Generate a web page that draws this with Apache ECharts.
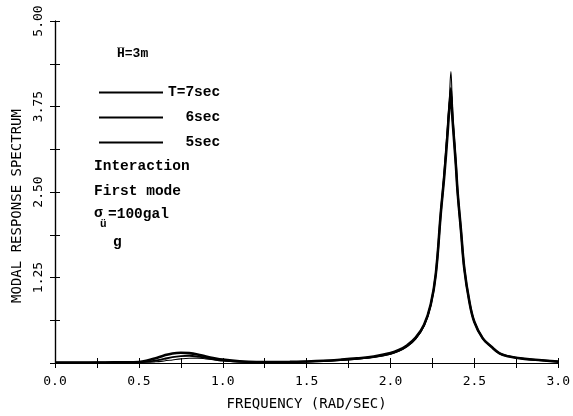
<!DOCTYPE html>
<html>
<head>
<meta charset="utf-8">
<script src="https://cdn.jsdelivr.net/npm/echarts@6/dist/echarts.min.js"></script>
<style>
  html, body { margin: 0; padding: 0; background: #fff; }
  #chart { width: 573px; height: 416px; }
</style>
</head>
<body>
<div id="chart"></div>
<script>
// frequency grid (rad/sec)
const freq = [0, 0.1, 0.2, 0.3, 0.4, 0.5, 0.55, 0.6, 0.65, 0.7, 0.75, 0.8, 0.85, 0.9, 0.95, 1.0,
  1.1, 1.2, 1.3, 1.4, 1.5, 1.6, 1.7, 1.8, 1.9, 2.0, 2.05, 2.1, 2.15, 2.2, 2.24, 2.27, 2.3, 2.32,
  2.34, 2.35, 2.36, 2.37, 2.38, 2.39, 2.4, 2.42, 2.44, 2.47, 2.5, 2.55, 2.6, 2.65, 2.7, 2.8, 2.9, 3.0];

// modal response spectrum, T = 7 sec
const t7 = [0.005, 0.005, 0.006, 0.008, 0.01, 0.015, 0.035, 0.07, 0.11, 0.14, 0.15, 0.145, 0.125, 0.095, 0.07, 0.05,
  0.025, 0.015, 0.015, 0.016, 0.022, 0.032, 0.048, 0.068, 0.095, 0.145, 0.19, 0.26, 0.37, 0.56, 0.86, 1.3, 2.2, 2.72,
  3.35, 3.7, 3.9, 3.55, 3.22, 2.88, 2.5, 1.94, 1.38, 0.9, 0.6, 0.36, 0.24, 0.14, 0.1, 0.06, 0.04, 0.02];
// T = 6 sec
const t6 = [0.005, 0.005, 0.006, 0.008, 0.01, 0.014, 0.02, 0.035, 0.06, 0.085, 0.1, 0.105, 0.095, 0.075, 0.055, 0.04,
  0.02, 0.012, 0.012, 0.014, 0.02, 0.029, 0.043, 0.062, 0.088, 0.135, 0.18, 0.25, 0.36, 0.55, 0.85, 1.3, 2.2, 2.75,
  3.4, 3.75, 4.02, 3.6, 3.25, 2.9, 2.5, 1.94, 1.38, 0.9, 0.6, 0.36, 0.24, 0.14, 0.1, 0.06, 0.04, 0.02];
// T = 5 sec
const t5 = [0.005, 0.005, 0.006, 0.008, 0.01, 0.012, 0.012, 0.018, 0.03, 0.045, 0.06, 0.07, 0.072, 0.06, 0.045, 0.03,
  0.016, 0.01, 0.01, 0.013, 0.018, 0.027, 0.04, 0.058, 0.083, 0.13, 0.17, 0.24, 0.35, 0.54, 0.84, 1.3, 2.2, 2.78,
  3.45, 3.82, 4.26, 3.66, 3.28, 2.92, 2.5, 1.94, 1.38, 0.9, 0.6, 0.36, 0.24, 0.14, 0.1, 0.06, 0.04, 0.02];

const seriesNames = ['T=7sec', '6sec', '5sec'];
const lineWidths = [2.6, 1.9, 1.1];

const pair = (vals) => freq.map((f, i) => [f, vals[i]]);

const monoFont = 'DejaVu Sans Mono';
const typeFont = 'Liberation Mono';

const chart = echarts.init(document.getElementById('chart'));

const tickOnly = {
  axisLine: { show: true, lineStyle: { color: '#000', width: 1.2 } },
  axisTick: { show: true, inside: false, length: 5, lineStyle: { color: '#000', width: 1 } },
  axisLabel: { show: false },
  splitLine: { show: false }
};

chart.setOption({
  animation: false,
  backgroundColor: '#fff',
  grid: { left: 55, right: 12, top: 21, bottom: 49 },
  xAxis: [
    {
      type: 'value', min: 0, max: 3, interval: 0.25,
      name: 'FREQUENCY (RAD/SEC)', nameLocation: 'middle', nameGap: 34,
      nameTextStyle: { fontFamily: monoFont, fontSize: 14, color: '#000' },
      axisLine: { show: true, lineStyle: { color: '#000', width: 1.2 } },
      axisTick: { show: true, length: 5, lineStyle: { color: '#000' } },
      axisLabel: {
        fontFamily: monoFont, fontSize: 13, color: '#000', margin: 12,
        formatter: (v) => (Math.abs(v * 2 - Math.round(v * 2)) < 1e-6 ? v.toFixed(1) : '')
      },
      splitLine: { show: false }
    },
    Object.assign({ type: 'value', min: 0, max: 3, interval: 0.25, position: 'top' }, tickOnly)
  ],
  yAxis: [
    {
      type: 'value', min: 0, max: 5, interval: 0.625,
      name: 'MODAL RESPONSE SPECTRUM', nameLocation: 'middle', nameGap: 25, nameRotate: 90,
      nameTextStyle: { fontFamily: monoFont, fontSize: 14, color: '#000', padding: [0, 0, 0, -28] },
      axisLine: { show: true, lineStyle: { color: '#000', width: 1.2 } },
      axisTick: { show: true, length: 5, lineStyle: { color: '#000' } },
      axisLabel: {
        rotate: 90, fontFamily: monoFont, fontSize: 13, color: '#000', margin: 10,
        formatter: (v) => (v > 0 && Math.abs(v / 1.25 - Math.round(v / 1.25)) < 1e-6 ? v.toFixed(2) : '')
      },
      splitLine: { show: false }
    },
    Object.assign({ type: 'value', min: 0, max: 5, interval: 0.625, position: 'right' }, tickOnly)
  ],
  legend: {
    left: 93, top: 80, orient: 'vertical', itemWidth: 64, itemHeight: 14, itemGap: 10,
    selectedMode: false,
    itemStyle: { opacity: 0 },
    data: seriesNames,
    formatter: (n) => (n.length < 6 ? '  ' + n : n),
    textStyle: { fontFamily: typeFont, fontWeight: 'bold', fontSize: 14.5, color: '#000' }
  },
  graphic: [
    { type: 'text', left: 117, top: 47, style: { text: 'H\u0305=3m', font: 'bold 13px "Liberation Mono"', fill: '#000' } },
    { type: 'text', left: 94, top: 159, style: { text: 'Interaction', font: 'bold 14.5px "Liberation Mono"', fill: '#000' } },
    { type: 'text', left: 94, top: 184, style: { text: 'First mode', font: 'bold 14.5px "Liberation Mono"', fill: '#000' } },
    { type: 'text', left: 94, top: 206, style: { text: '\u03c3', font: 'bold 14.5px "Liberation Mono"', fill: '#000' } },
    { type: 'text', left: 100, top: 219, style: { text: '\u00fc', font: 'bold 11px "Liberation Mono"', fill: '#000' } },
    { type: 'text', left: 113, top: 235, style: { text: 'g', font: 'bold 14.5px "Liberation Mono"', fill: '#000' } },
    { type: 'text', left: 108, top: 207, style: { text: '=100gal', font: 'bold 14.5px "Liberation Mono"', fill: '#000' } }
  ],
  series: [t7, t6, t5].map((vals, i) => ({
    name: seriesNames[i],
    type: 'line',
    data: pair(vals),
    symbol: 'none',
    smooth: 0.4,
    lineStyle: { color: '#000', width: lineWidths[i] },
    itemStyle: { color: '#000' }
  }))
});
</script>
</body>
</html>
